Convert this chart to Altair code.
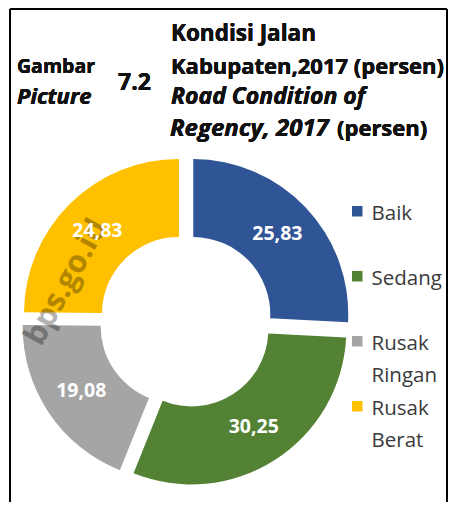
import altair as alt
import pandas as pd

kategori = ["Baik", "Sedang", "Rusak Ringan", "Rusak Berat"]
nilai = [25.83, 30.25, 19.08, 24.83]
label = ["25,83", "30,25", "19,08", "24,83"]
urutan = [1, 2, 3, 4]
warna = ["#2F5597", "#548235", "#A5A5A5", "#FFC000"]

df = pd.DataFrame({"kategori": kategori, "nilai": nilai, "label": label, "urutan": urutan})

FONT = "Open Sans"
CX, CY = 178, 313
EXPLODE = 10
R_IN, R_OUT = 77, 155
R_LABEL = 116

base = alt.Chart(df).transform_window(
    cum="sum(nilai)", sort=[alt.SortField("urutan")], frame=[None, 0]
).transform_joinaggregate(
    total="sum(nilai)"
).transform_calculate(
    a0="2*PI*(datum.cum - datum.nilai)/datum.total",
    a1="2*PI*datum.cum/datum.total",
    mid="2*PI*(datum.cum - datum.nilai/2)/datum.total",
).transform_calculate(
    dx=f"{EXPLODE}*sin(datum.mid)",
    dy=f"-{EXPLODE}*cos(datum.mid)",
    lx=f"{EXPLODE + R_LABEL}*sin(datum.mid)",
    ly=f"-{EXPLODE + R_LABEL}*cos(datum.mid)",
)

arcs = base.mark_arc(innerRadius=R_IN, outerRadius=R_OUT, strokeWidth=0).encode(
    theta=alt.Theta("a0:Q", scale=None),
    theta2=alt.Theta2("a1:Q"),
    color=alt.Color(
        "kategori:N",
        scale=alt.Scale(domain=kategori, range=warna),
        sort=kategori,
        legend=alt.Legend(
            title=None, orient="none", legendX=339, legendY=193,
            symbolType="square", symbolSize=110, symbolStrokeWidth=0,
            labelFont=FONT, labelFontSize=20.5, labelColor="#3a3a3a",
            labelBaseline="top", rowPadding=9, labelOffset=4,
            labelExpr="indexof(datum.label, ' ') > 0 ? split(datum.label, ' ') : [datum.label, ' ']",
        ),
    ),
    x=alt.value(CX),
    y=alt.value(CY),
    xOffset=alt.XOffset("dx:Q", scale=None),
    yOffset=alt.YOffset("dy:Q", scale=None),
)

labels = base.mark_text(font=FONT, fontSize=19.5, fontWeight="bold", color="#ffffff",
                        align="center", baseline="middle").encode(
    text="label:N",
    x=alt.value(CX),
    y=alt.value(CY),
    xOffset=alt.XOffset("lx:Q", scale=None),
    yOffset=alt.YOffset("ly:Q", scale=None),
)

def txt(s, x, y, size, italic=False, align="left"):
    return alt.Chart(df).mark_text(
        font=FONT, fontSize=size, fontWeight="bold",
        fontStyle="italic" if italic else "normal",
        color="#111111", align=align, baseline="middle",
    ).encode(text=alt.value(s), x=alt.value(x), y=alt.value(y))

title_layers = [
    txt("Gambar", 9, 59, 19.5),
    txt("Picture", 9, 89, 22, italic=True),
    txt("7.2", 110, 75, 23),
    txt("Kondisi Jalan", 163, 26, 22.5),
    txt("Kabupaten,2017 (persen)", 163, 59, 22),
    txt("Road Condition of", 163, 89, 23, italic=True),
    txt("Regency, 2017", 162, 121, 24, italic=True),
    txt("(persen)", 329, 121, 22),
]

watermark = alt.Chart(df).mark_text(
    font=FONT, fontSize=31, fontWeight="bold", color="#000000", opacity=0.08,
    angle=299, align="right", baseline="middle",
).encode(text=alt.value("bps.go.id"), x=alt.value(92), y=alt.value(214))

frame = [
    alt.Chart(df).mark_rule(color="#000000", strokeWidth=2).encode(
        x=alt.value(2), x2=alt.value(2), y=alt.value(1), y2=alt.value(494)),
    alt.Chart(df).mark_rule(color="#000000", strokeWidth=2).encode(
        x=alt.value(439), x2=alt.value(439), y=alt.value(1), y2=alt.value(494)),
    alt.Chart(df).mark_rule(color="#000000", strokeWidth=2).encode(
        x=alt.value(2), x2=alt.value(439), y=alt.value(1), y2=alt.value(1)),
]

chart = alt.layer(arcs, watermark, labels, *title_layers, *frame).properties(
    width=440, height=494,
    autosize=alt.AutoSizeParams(type="none"),
    padding=0,
    background="#ffffff",
).configure(
    style={"guide-label": {"lineHeight": 32, "dy": -7}}
).configure_view(strokeWidth=0)

chart.save("out.html", embed_options={"renderer": "svg", "actions": False})
